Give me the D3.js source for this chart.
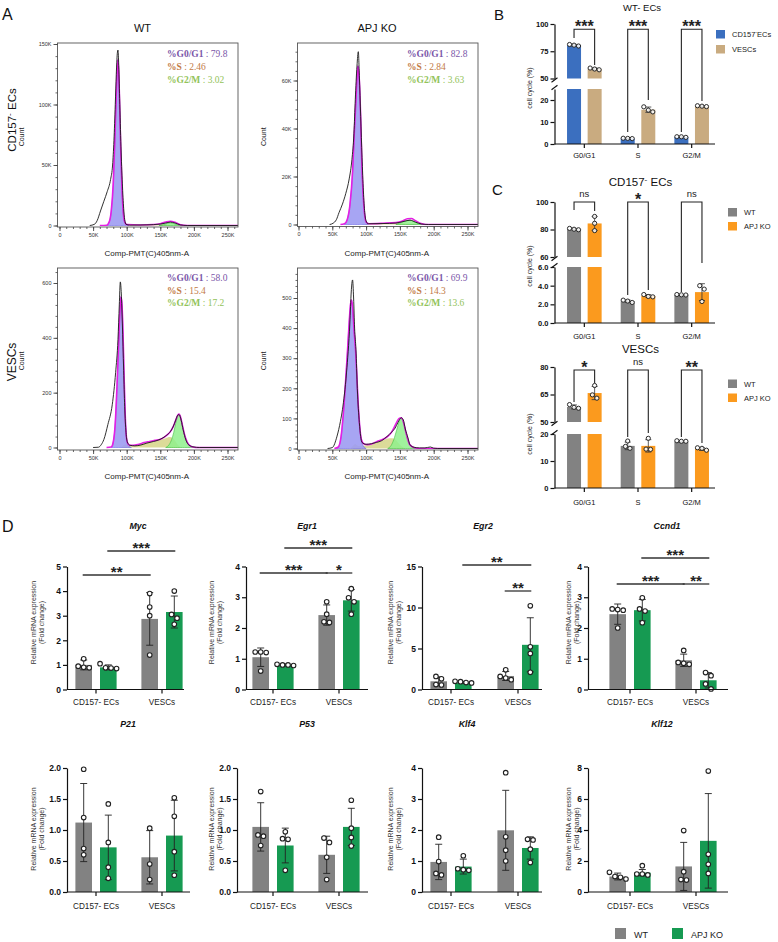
<!DOCTYPE html>
<html>
<head>
<meta charset="utf-8">
<title>Cell cycle and gene expression</title>
<script src="https://cdn.jsdelivr.net/npm/d3@7/dist/d3.min.js"></script>
<style>
  body { margin: 0; background: #fff; }
  svg  { display: block; }
</style>
</head>
<body>
<svg id="fig" width="778" height="942"></svg>
<script>
/* ── Data ─────────────────────────────────────────────── */

// Panel A: DNA content histograms. x = Comp-PMT(C)405nm-A (K), y = count (top row in K)
const ecWtRaw = [[45,0],[52,1],[56,4],[61,12],[66,20],[71,28],[76,38],[79,50],[81,70],[83,100],[84.5,125],[86,142],[87,145],[88,135],[89.5,105],[91.5,65],[93.5,35],[95.5,14],[97,5],[99,1],[105,0.3],[130,0.5],[150,1.2],[158,2],[165,2.8],[172,2],[180,0.5],[190,0],[280,0]];
const ecWtFit = [[60,0],[70,0.2],[74,3],[77,12],[80,35],[82,65],[84,100],[85.5,125],[86.8,137],[88,128],[89.5,100],[91,65],[93,30],[95,10],[97,3],[100,0.8],[120,0.4],[140,0.8],[150,1.5],[158,2.8],[165,3.5],[172,2.6],[180,0.6],[190,0],[280,0]];
const ecWtG1  = [[70,0],[74,3],[77,12],[80,35],[82,65],[84,100],[85.5,125],[86.8,137],[88,128],[89.5,100],[91,65],[93,30],[95,10],[97,3],[100,0.8],[103,0]];
const ecWtS   = [[95,0],[105,0.3],[125,0.5],[145,0.8],[158,0.6],[168,0]];
const ecWtG2  = [[148,0],[155,0.8],[161,1.8],[165,2.2],[170,1.6],[176,0.6],[182,0]];

const ecKoRaw = [[46,0],[51,0.5],[56,2],[60,5],[65,8.5],[70,13],[75,19],[79,27],[82,38],[84,52],[86.5,66],[88.5,72],[90,62],[92,45],[94,28],[96,14],[98,5],[100,1.5],[103,0.3],[125,0.4],[144,0.6],[156,1.3],[165,1.8],[173,1],[182,0.2],[192,0],[280,0]];
const ecKoFit = [[62,0],[68,0.3],[72,2],[76,8],[80,22],[82.5,38],[85,52],[87,63],[88,66],[90,60],[92,44],[93.5,27],[95.5,13],[97.5,5],[100,1],[104,0.3],[125,0.5],[144,0.8],[154,1.5],[161,2.4],[167,2.5],[173,1.6],[180,0.5],[188,0],[280,0]];
const ecKoG1  = [[68,0],[72,2],[76,8],[80,22],[82.5,38],[85,52],[87,63],[88,66],[90,60],[92,44],[93.5,27],[95.5,13],[97.5,5],[100,1],[103,0]];
const ecKoS   = [[95,0],[105,0.3],[130,0.5],[150,0.6],[165,0.3],[175,0]];
const ecKoG2  = [[144,0],[152,0.8],[158,1.5],[165,1.8],[171,1.2],[178,0.3],[183,0]];

const veWtRaw = [[50,0],[58,1],[62,10],[66,29],[72,84],[78.5,156],[83.5,273],[87,393],[89,520],[90.5,604],[92,560],[93.5,454],[95.5,280],[97,150],[99,55],[101,20],[105,8],[112,6],[121,9],[130,16],[140,22],[150,30],[158,42],[164,55],[169,75],[173,100],[176,118],[178,120],[181,100],[184,65],[188,28],[193,8],[200,2],[208,0],[280,0]];
const veWtFit = [[70,0],[77,2],[80,20],[83,90],[85.5,220],[88,380],[90,500],[91.5,550],[93,520],[94.5,420],[96,270],[97.5,140],[99,55],[101,18],[104,8],[110,8],[118,12],[126,18],[134,22],[142,26],[150,30],[156,38],[161,48],[165,58],[169,75],[173,100],[176,118],[178,122],[180,112],[183,80],[186,48],[190,20],[195,5],[200,1],[206,0],[280,0]];
const veWtG1  = [[77,0],[80,20],[83,90],[85.5,220],[88,380],[90,500],[91.5,550],[93,520],[94.5,420],[96,270],[97.5,140],[99,55],[101,15],[104,3],[107,0]];
const veWtS   = [[92,0],[96,10],[99,12],[103,6],[110,8],[118,12],[126,16],[134,20],[142,24],[150,28],[158,34],[164,38],[168,36],[172,25],[176,10],[180,2],[183,0]];
const veWtG2  = [[158,0],[163,10],[167,30],[170,55],[173,90],[176,115],[178,120],[180,110],[183,80],[186,48],[190,20],[195,5],[200,0]];

const veKoRaw = [[43,0],[50,3],[57,41],[62,90],[65,129],[71,251],[76,417],[78,520],[80,560],[81.5,500],[83,400],[85,328],[87,200],[90,86],[92,40],[94,20],[100,14],[108,16],[115,20],[123,26],[131,40],[138,55],[143,68],[147,86],[152,102],[155,95],[158,65],[162,35],[165,12],[171,4],[179,2],[187,2],[195,5],[200,1],[206,0],[280,0]];
const veKoFit = [[53,0],[59,5],[63,40],[66,107],[69,200],[72,306],[75,420],[77,480],[78.5,493],[80,470],[82,400],[85,306],[88,160],[91,63],[93,30],[97,15],[102,13],[108,15],[115,22],[125,31],[132,40],[137,52],[141,68],[145,86],[149,100],[152,102],[155,90],[158,62],[161,35],[164,15],[169,5],[175,1],[182,0],[280,0]];
const veKoG1  = [[56,0],[59,5],[63,40],[66,107],[69,200],[72,306],[75,420],[77,480],[78.5,493],[80,470],[82,400],[85,306],[88,160],[91,63],[93,25],[96,8],[100,0]];
const veKoS   = [[77,0],[81,10],[84,15],[87,10],[91,8],[98,10],[106,13],[115,20],[125,28],[132,33],[139,34],[144,28],[149,15],[154,5],[158,0]];
const veKoG2  = [[132,0],[137,10],[141,30],[145,60],[149,90],[152,100],[155,88],[158,60],[161,35],[164,15],[169,5],[175,0]];

const statNames = ['%G0/G1', '%S', '%G2/M'];
const ecWtStats = ['79.8', '2.46', '3.02'];
const ecKoStats = ['82.8', '2.84', '3.63'];
const veWtStats = ['58.0', '15.4', '17.2'];
const veKoStats = ['69.9', '14.3', '13.6'];

// Panel B / C: cell cycle (%) by phase
const phases = ['G0/G1', 'S', 'G2/M'];

const bEcMean = [80.5, 2.54, 3.2];
const bEcSd   = [0.75, 0.07, 0.15];
const bEcPts  = [[79.8, 81.2, 80.6], [2.46, 2.55, 2.62], [3.02, 3.3, 3.28]];
const bVeMean = [58.8, 15.6, 17.2];
const bVeSd   = [0.8, 1.2, 0.2];
const bVePts  = [[58.0, 59.6, 58.7], [14.6, 16.9, 15.4], [17.2, 17.0, 17.4]];
const bSig    = ['***', '***', '***'];

const cEcWtMean = [80.3, 2.33, 3.02];
const cEcWtSd   = [0.5, 0.12, 0.03];
const cEcWtPts  = [[79.8, 80.8, 80.2], [2.2, 2.35, 2.45], [3.02, 3.05, 3.0]];
const cEcKoMean = [84.4, 2.9, 3.31];
const cEcKoSd   = [5.1, 0.14, 0.9];
const cEcKoPts  = [[89.5, 84.5, 79.2], [2.84, 3.05, 2.8], [4.0, 3.63, 2.3]];
const cEcSig    = ['ns', '*', 'ns'];

const cVeWtMean = [58.2, 15.6, 17.2];
const cVeWtSd   = [1.1, 1.4, 0.2];
const cVeWtPts  = [[57.5, 59.5, 58.0], [17.4, 14.7, 15.4], [17.3, 17.5, 17.3]];
const cVeKoMean = [65.8, 15.6, 14.4];
const cVeKoSd   = [3.6, 2.3, 0.5];
const cVeKoPts  = [[63.0, 69.9, 64.8], [18.4, 14.4, 14.3], [14.0, 14.7, 14.9]];
const cVeSig    = ['*', 'ns', '**'];

// Panel D: relative mRNA expression (fold change)
const groups = ['CD157- ECs', 'VESCs'];
const genotypes = ['WT', 'APJ KO'];
// bar order: WT CD157-, KO CD157-, WT VESCs, KO VESCs
const mycMean = [1.0, 0.9, 2.87, 3.15];
const mycSd   = [0.2, 0.1, 1.07, 0.65];
const mycPts  = [[1.25, 0.95, 0.88, 0.9], [1.05, 0.88, 0.87, 0.85], [3.9, 3.35, 3.0, 1.4], [4.0, 3.05, 2.65, 2.9]];
const mycSig  = [['***', 1, 3], ['**', 0, 2]];

const egr1Mean = [1.05, 0.8, 2.42, 2.9];
const egr1Sd   = [0.3, 0.03, 0.33, 0.35];
const egr1Pts  = [[1.22, 1.2, 1.22, 0.6], [0.8, 0.78, 0.82, 0.8], [2.85, 2.45, 2.18, 2.2], [3.28, 2.98, 2.85, 2.45]];
const egr1Sig  = [['***', 1, 3], ['***', 0, 2], ['*', 2, 3]];

const egr2Mean = [1.0, 0.85, 1.65, 5.45];
const egr2Sd   = [0.55, 0.12, 0.55, 3.3];
const egr2Pts  = [[1.6, 1.3, 0.6, 0.55], [0.95, 1.0, 0.85, 0.8], [2.4, 1.6, 1.4, 1.2], [10.2, 5.2, 4.4, 2.1]];
const egr2Sig  = [['**', 1, 3], ['**', 2, 3]];

const ccnd1Mean = [2.45, 2.58, 0.95, 0.3];
const ccnd1Sd   = [0.33, 0.35, 0.2, 0.25];
const ccnd1Pts  = [[2.6, 2.62, 2.0, 2.58], [2.98, 2.62, 2.55, 2.17], [1.27, 0.85, 0.88, 0.82], [0.55, 0.45, 0.18, 0.02]];
const ccnd1Sig  = [['***', 1, 3], ['***', 0, 2], ['**', 2, 3]];

const p21Mean = [1.12, 0.72, 0.56, 0.91];
const p21Sd   = [0.63, 0.52, 0.43, 0.57];
const p21Pts  = [[1.98, 1.2, 0.7, 0.6], [1.42, 0.8, 0.4, 0.22], [1.03, 0.45, 0.2], [1.52, 1.22, 0.65, 0.27]];

const p53Mean = [1.05, 0.75, 0.6, 1.05];
const p53Sd   = [0.39, 0.28, 0.3, 0.3];
const p53Pts  = [[1.62, 0.92, 0.9, 0.75], [0.97, 0.86, 0.85, 0.35], [0.87, 0.8, 0.56, 0.2], [1.48, 1.03, 0.88, 0.74]];

const klf4Mean = [0.97, 0.82, 1.99, 1.42];
const klf4Sd   = [0.57, 0.24, 1.29, 0.36];
const klf4Pts  = [[1.77, 0.98, 0.6, 0.55], [1.17, 0.72, 0.75, 0.7], [3.85, 1.78, 1.35, 1.0], [1.68, 1.7, 1.38, 0.95]];

const klf12Mean = [1.0, 1.25, 1.65, 3.3];
const klf12Sd   = [0.22, 0.2, 1.55, 3.05];
const klf12Pts  = [[1.27, 0.84, 0.95, 1.0], [1.7, 1.1, 1.16, 1.16], [3.96, 1.31, 0.77, 0.8], [7.8, 2.43, 1.79, 1.2]];

/* ── Styles / helpers ─────────────────────────────────── */

const SANS  = '"Liberation Sans", Arial, Helvetica, sans-serif';
const SERIF = '"Liberation Serif", "Times New Roman", serif';
const BLUE = '#3b6fbf', TAN = '#c9ab80', GRAY = '#828282', ORANGE = '#fb9a1e', GREEN = '#169a52';
const STAT_COLORS = ['#7a56a8', '#c27a46', '#92c35a'];

const svg = d3.select('#fig');
svg.append('rect').attr('width', 778).attr('height', 942).attr('fill', '#fff');

function addText(parent, x, y, str, o = {}) {
  const t = parent.append('text')
    .attr('x', x).attr('y', y)
    .attr('font-family', o.family || SANS)
    .attr('font-size', o.size || 8)
    .attr('font-weight', o.weight || 'normal')
    .attr('font-style', o.italic ? 'italic' : null)
    .attr('text-anchor', o.anchor || 'middle')
    .attr('fill', o.fill || '#111');
  if (o.rotate) t.attr('transform', `rotate(-90,${x},${y})`);
  if (str != null) t.text(str);
  return t;
}

// "CD157" + superscript minus + rest
function supMinus(t, before, after, size) {
  t.append('tspan').text(before);
  t.append('tspan').attr('dy', -size * 0.38).attr('font-size', size * 0.7).text('-');
  t.append('tspan').attr('dy', size * 0.38).text(after);
  return t;
}

function styleAxis(sel, o) {
  sel.attr('font-family', SANS).attr('font-size', o.size);
  sel.select('.domain').attr('stroke', o.color || '#111').attr('stroke-width', o.width || 1.2);
  sel.selectAll('.tick line').attr('stroke', o.color || '#111').attr('stroke-width', o.width || 1.2);
  sel.selectAll('.tick text').attr('fill', o.textColor || '#111')
    .attr('font-weight', o.bold ? 'bold' : 'normal');
}

// spread replicate points horizontally when they overlap
function spread(vals, yFn, step) {
  const items = vals.map(v => ({ v, py: yFn(v), dx: 0 })).sort((a, b) => a.py - b.py);
  let cluster = [];
  const flush = () => {
    cluster.forEach((it, k) => { it.dx = (k - (cluster.length - 1) / 2) * step; });
    cluster = [];
  };
  items.forEach(it => {
    if (cluster.length && it.py - cluster[cluster.length - 1].py >= step) flush();
    cluster.push(it);
  });
  flush();
  return items;
}

/* ── Panel A: histograms ──────────────────────────────── */

function drawHist(h) {
  const g = svg.append('g');
  const x = d3.scaleLinear().domain([0, 250]).range(h.xr);
  const y = d3.scaleLinear().domain([0, h.yMax]).range(h.yr);
  const [fl, fr, ft, fb] = h.frame;

  const clipId = 'clip-' + h.id;
  svg.append('clipPath').attr('id', clipId)
    .append('rect').attr('x', fl).attr('y', ft).attr('width', fr - fl).attr('height', fb - ft - 1);
  const plot = g.append('g').attr('clip-path', `url(#${clipId})`);

  const area = d3.area().x(d => x(d[0])).y0(y(0)).y1(d => y(d[1])).curve(d3.curveMonotoneX);
  const line = d3.line().x(d => x(d[0])).y(d => y(d[1])).curve(d3.curveMonotoneX);

  plot.append('path').attr('d', area(h.s)).attr('fill', '#d3d27f').attr('fill-opacity', 0.8);
  plot.append('path').attr('d', area(h.g1)).attr('fill', '#9d9bf2').attr('fill-opacity', 0.9)
    .attr('stroke', '#6d68e6').attr('stroke-width', 0.6);
  plot.append('path').attr('d', area(h.g2)).attr('fill', '#8ff08c').attr('fill-opacity', 0.85)
    .attr('stroke', '#3fbf3f').attr('stroke-width', 0.6);
  plot.append('path').attr('d', line(h.fit)).attr('fill', 'none')
    .attr('stroke', '#e41fe4').attr('stroke-width', 1.6);
  plot.append('path').attr('d', line(h.raw)).attr('fill', 'none')
    .attr('stroke', '#1a1a1a').attr('stroke-width', 0.9);

  g.append('rect').attr('x', fl).attr('y', ft).attr('width', fr - fl).attr('height', fb - ft)
    .attr('fill', 'none').attr('stroke', '#555').attr('stroke-width', 0.9);

  // x axis (minor + major)
  const xMinor = d3.range(0, 300, 10).filter(v => x(v) <= fr - 1);
  const xm = g.append('g').attr('transform', `translate(0,${fb})`)
    .call(d3.axisBottom(x).tickValues(xMinor).tickSize(2).tickFormat(''));
  xm.select('.domain').remove();
  xm.selectAll('.tick line').attr('stroke', '#444').attr('stroke-width', 0.8);
  const xa = g.append('g').attr('transform', `translate(0,${fb})`)
    .call(d3.axisBottom(x).tickValues(d3.range(0, 251, 50)).tickSize(4).tickPadding(2)
      .tickFormat(d => d === 0 ? '0' : d + 'K'));
  xa.select('.domain').remove();
  styleAxis(xa, { size: 5.5, width: 0.9, color: '#444', textColor: '#333' });

  // y axis
  const yMinor = d3.range(0, h.yMax * 2, h.yMinor).filter(v => y(v) >= ft + 1);
  const ym = g.append('g').attr('transform', `translate(${fl},0)`)
    .call(d3.axisLeft(y).tickValues(yMinor).tickSize(2).tickFormat(''));
  ym.select('.domain').remove();
  ym.selectAll('.tick line').attr('stroke', '#444').attr('stroke-width', 0.8);
  const ya = g.append('g').attr('transform', `translate(${fl},0)`)
    .call(d3.axisLeft(y).tickValues(d3.range(0, h.yMax + 1, h.yMajor)).tickSize(4).tickPadding(2)
      .tickFormat(d => d === 0 ? '0' : (h.kfmt ? d + 'K' : d)));
  ya.select('.domain').remove();
  styleAxis(ya, { size: 5.5, width: 0.9, color: '#444', textColor: '#333' });

  // stats text
  statNames.forEach((nm, i) => {
    const t = addText(g, h.statX, h.statY[i], null, { family: SERIF, size: 9.5, anchor: 'start', fill: STAT_COLORS[i] });
    t.append('tspan').attr('font-weight', 'bold').text(nm);
    t.append('tspan').text(' : ' + h.stats[i]);
  });

  addText(g, (fl + fr) / 2 - 1, fb + 29, 'Comp-PMT(C)405nm-A', { size: 8, fill: '#222' });
  addText(g, h.countX, (ft + fb) / 2 + 2, 'Count', { size: 7, rotate: true, fill: '#222' });
}

const histCols = [
  { xr: [59.5, 227.5], frame: [57.5, 238], statX: 167, countX: 24 },
  { xr: [298.5, 467.5], frame: [297.5, 478], statX: 407, countX: 265.5 }
];
const hists = [
  { id: 'a1', col: 0, raw: ecWtRaw, fit: ecWtFit, g1: ecWtG1, s: ecWtS, g2: ecWtG2, stats: ecWtStats,
    top: 43, bottom: 227, yMax: 150, yr: [225.5, 44], yMajor: 50, yMinor: 10, kfmt: true, statY: [56.5, 69.5, 82.5] },
  { id: 'a2', col: 1, raw: ecKoRaw, fit: ecKoFit, g1: ecKoG1, s: ecKoS, g2: ecKoG2, stats: ecKoStats,
    top: 43, bottom: 226.5, yMax: 60, yr: [224.5, 80.5], yMajor: 20, yMinor: 4, kfmt: true, statY: [56.5, 69.5, 82.5] },
  { id: 'a3', col: 0, raw: veWtRaw, fit: veWtFit, g1: veWtG1, s: veWtS, g2: veWtG2, stats: veWtStats,
    top: 268, bottom: 450, yMax: 600, yr: [447.5, 283], yMajor: 200, yMinor: 40, statY: [281, 293.5, 306] },
  { id: 'a4', col: 1, raw: veKoRaw, fit: veKoFit, g1: veKoG1, s: veKoS, g2: veKoG2, stats: veKoStats,
    top: 268, bottom: 450, yMax: 500, yr: [448.5, 298], yMajor: 100, yMinor: 20, statY: [281, 293.5, 306] }
];
hists.forEach(h => {
  const c = histCols[h.col];
  drawHist(Object.assign({}, h, {
    xr: c.xr, statX: c.statX, countX: c.countX,
    frame: [c.frame[0], c.frame[1], h.top, h.bottom]
  }));
});

addText(svg, 142.5, 31.5, 'WT', { size: 11 });
addText(svg, 377, 31.5, 'APJ KO', { size: 11 });
supMinus(addText(svg, 16, 120, null, { size: 11.5, rotate: true }), 'CD157', ' ECs', 11.5);
addText(svg, 16, 362, 'VESCs', { size: 12, rotate: true });

/* ── Panels B and C: broken-axis bar charts ───────────── */

function drawBreak(c) {
  const g = svg.append('g');
  const xg = d3.scaleBand().domain(phases).range([557.5, 718.5]);
  const xi = d3.scalePoint().domain([0, 1]).range([-10.3, 10.3]);
  const lo = d3.scaleLinear().domain(c.loDom).range(c.loRng);
  const hi = d3.scaleLinear().domain(c.hiDom).range(c.hiRng);
  const yv = v => (v > c.loDom[1] ? hi(Math.max(v, c.hiDom[0])) : lo(v));
  const cxOf = (i, si) => xg(phases[i]) + xg.bandwidth() / 2 + xi(si);
  const BW = 14;
  const ax = 554.5;

  c.series.forEach((s, si) => {
    s.mean.forEach((m, i) => {
      const cx = cxOf(i, si);
      const lt = Math.min(m, c.loDom[1]);
      g.append('rect').attr('x', cx - BW / 2).attr('width', BW)
        .attr('y', lo(lt)).attr('height', lo(0) - lo(lt)).attr('fill', s.color);
      if (m > c.loDom[1]) {
        g.append('rect').attr('x', cx - BW / 2).attr('width', BW)
          .attr('y', hi(m)).attr('height', hi(c.hiDom[0]) - hi(m)).attr('fill', s.color);
      }
      const e1 = yv(m - s.sd[i]), e2 = yv(m + s.sd[i]);
      g.append('path').attr('d', `M${cx},${e1}V${e2}M${cx - 3},${e2}H${cx + 3}M${cx - 3},${e1}H${cx + 3}`)
        .attr('stroke', '#333').attr('stroke-width', 0.8).attr('fill', 'none');
      spread(s.pts[i], yv, 4.5).forEach(p => {
        g.append('circle').attr('cx', cx + p.dx).attr('cy', p.py).attr('r', 2.1)
          .attr('fill', '#fff').attr('fill-opacity', 0.85).attr('stroke', '#2a2a2a').attr('stroke-width', 1);
      });
    });
  });

  // significance brackets
  c.sig.forEach((lab, i) => {
    const xl = cxOf(i, 0), xr = cxOf(i, 1);
    const [ll, lr] = c.legs[i];
    g.append('path').attr('d', `M${xl},${ll}V${c.bTop}H${xr}V${lr}`)
      .attr('fill', 'none').attr('stroke', '#222').attr('stroke-width', 1.1);
    if (lab === 'ns') addText(g, (xl + xr) / 2, c.bTop - 5.5, lab, { size: 9.5, fill: '#222' });
    else addText(g, (xl + xr) / 2, c.bTop + 3, lab, { size: 16, weight: 'bold', fill: '#222' });
  });

  // y axes (two segments)
  const yaLo = g.append('g').attr('transform', `translate(${ax},0)`)
    .call(d3.axisLeft(lo).tickValues(c.loTicks).tickSize(4).tickSizeOuter(0).tickPadding(2));
  const yaHi = g.append('g').attr('transform', `translate(${ax},0)`)
    .call(d3.axisLeft(hi).tickValues(c.hiTicks).tickSize(4).tickSizeOuter(0).tickPadding(2));
  styleAxis(yaLo, { size: 7.5, bold: true });
  styleAxis(yaHi, { size: 7.5, bold: true });
  [c.hiRng[0] + 1.5, c.loRng[1] - 1.5].forEach(yy => {
    g.append('line').attr('x1', ax - 3).attr('y1', yy + 2.2).attr('x2', ax + 3).attr('y2', yy - 2.2)
      .attr('stroke', '#111').attr('stroke-width', 1.1);
  });

  // x axis
  g.append('line').attr('x1', ax).attr('x2', 715).attr('y1', lo(0)).attr('y2', lo(0))
    .attr('stroke', '#111').attr('stroke-width', 1.2);
  phases.forEach(p => {
    const cx = xg(p) + xg.bandwidth() / 2;
    g.append('line').attr('x1', cx).attr('x2', cx).attr('y1', lo(0)).attr('y2', lo(0) + 4)
      .attr('stroke', '#111').attr('stroke-width', 1.2);
    addText(g, cx, c.labelY, p, { size: 7.5 });
  });

  addText(g, 532, c.yLabelY, 'cell cycle (%)', { size: 7, rotate: true, fill: '#222' });

  // legend
  c.series.forEach((s, si) => {
    const ly = c.legendY[si];
    g.append('rect').attr('x', c.legendX).attr('y', ly).attr('width', 9).attr('height', 8.5).attr('fill', s.color);
    const t = addText(g, c.legendX + 16, ly + 7, null, { size: 7.5, anchor: 'start', fill: '#222' });
    if (s.name === 'CD157-ECs') supMinus(t, 'CD157', 'ECs', 7.5); else t.text(s.name);
  });
}

drawBreak({
  series: [
    { name: 'CD157-ECs', mean: bEcMean, sd: bEcSd, pts: bEcPts, color: BLUE },
    { name: 'VESCs', mean: bVeMean, sd: bVeSd, pts: bVePts, color: TAN }
  ],
  loDom: [0, 25], loRng: [144, 89], loTicks: [0, 10, 20],
  hiDom: [50, 100], hiRng: [78.5, 24], hiTicks: [50, 75, 100],
  sig: bSig, bTop: 29.3, legs: [[38, 65], [132, 100], [132, 101]],
  labelY: 158, yLabelY: 88, legendX: 716, legendY: [30, 45]
});
drawBreak({
  series: [
    { name: 'WT', mean: cEcWtMean, sd: cEcWtSd, pts: cEcWtPts, color: GRAY },
    { name: 'APJ KO', mean: cEcKoMean, sd: cEcKoSd, pts: cEcKoPts, color: ORANGE }
  ],
  loDom: [0, 6], loRng: [323, 267], loTicks: [0, 2, 4, 6],
  hiDom: [60, 100], hiRng: [257, 202], hiTicks: [60, 80, 100],
  sig: cEcSig, bTop: 202, legs: [[210, 211], [295, 290], [292, 263]],
  labelY: 339, yLabelY: 266, legendX: 728, legendY: [208, 222]
});
drawBreak({
  series: [
    { name: 'WT', mean: cVeWtMean, sd: cVeWtSd, pts: cVeWtPts, color: GRAY },
    { name: 'APJ KO', mean: cVeKoMean, sd: cVeKoSd, pts: cVeKoPts, color: ORANGE }
  ],
  loDom: [0, 20], loRng: [488, 434], loTicks: [0, 10, 20],
  hiDom: [50, 80], hiRng: [422, 367], hiTicks: [50, 65, 80],
  sig: cVeSig, bTop: 370, legs: [[402, 383], [437, 433], [437, 443]],
  labelY: 505, yLabelY: 434, legendX: 728, legendY: [379.5, 393.5]
});

addText(svg, 642, 10.5, 'WT- ECs', { size: 9.5 });
supMinus(addText(svg, 640.5, 186, null, { size: 11.5 }), 'CD157', ' ECs', 11.5);
addText(svg, 640.5, 352.5, 'VESCs', { size: 11.5 });

/* ── Panel D: qPCR bar charts ─────────────────────────── */

const rowsD = [
  { y0: 689.5, yTop: 566.5, titleY: 528.5, catY: 705, yLabelY: 622.5 },
  { y0: 892, yTop: 768, titleY: 727, catY: 909, yLabelY: 829 }
];
const colsD = [
  { gx: [96, 162], yLabelX: 36 },
  { gx: [273, 339], yLabelX: 214 },
  { gx: [451, 518], yLabelX: 393 },
  { gx: [630, 696], yLabelX: 571 }
];

function drawGene(c) {
  const row = rowsD[c.row], col = colsD[c.col];
  const g = svg.append('g');
  const y = d3.scaleLinear().domain([0, c.max]).range([row.y0, row.yTop]);
  const xg = d3.scalePoint().domain(groups).range(col.gx);
  const xi = d3.scalePoint().domain(genotypes).range([-12.3, 12.3]);
  const bx = i => xg(groups[i >> 1]) + xi(genotypes[i & 1]);
  const BW = 16.6;

  c.mean.forEach((m, i) => {
    const cx = bx(i);
    g.append('rect').attr('x', cx - BW / 2).attr('width', BW)
      .attr('y', y(m)).attr('height', y(0) - y(m)).attr('fill', i & 1 ? GREEN : GRAY);
    const e1 = y(Math.max(0, m - c.sd[i])), e2 = y(m + c.sd[i]);
    g.append('path').attr('d', `M${cx},${e1}V${e2}M${cx - 3.5},${e2}H${cx + 3.5}M${cx - 3.5},${e1}H${cx + 3.5}`)
      .attr('stroke', '#222').attr('stroke-width', 0.9).attr('fill', 'none');
    spread(c.pts[i], y, 5.5).forEach(p => {
      g.append('circle').attr('cx', cx + p.dx).attr('cy', p.py).attr('r', 2.3)
        .attr('fill', '#fff').attr('stroke', '#222').attr('stroke-width', 1.1);
    });
  });

  // axes
  const ya = g.append('g').attr('transform', `translate(${c.ax},0)`)
    .call(d3.axisLeft(y).tickValues(c.ticks).tickSize(4).tickSizeOuter(0).tickPadding(2).tickFormat(c.fmt));
  styleAxis(ya, { size: 8.5, bold: true });
  g.append('line').attr('x1', c.ax).attr('x2', c.xEnd).attr('y1', y(0)).attr('y2', y(0))
    .attr('stroke', '#111').attr('stroke-width', 1.2);
  groups.forEach(gr => {
    g.append('line').attr('x1', xg(gr)).attr('x2', xg(gr)).attr('y1', y(0)).attr('y2', y(0) + 4)
      .attr('stroke', '#111').attr('stroke-width', 1.2);
    addText(g, xg(gr), row.catY, gr, { size: 8.2, fill: '#222' });
  });

  addText(g, c.titleX, row.titleY, c.name, { size: 8.8, weight: 'bold', italic: true });
  addText(g, col.yLabelX, row.yLabelY, 'Relative mRNA expression', { size: 7, rotate: true, fill: '#333' });
  addText(g, col.yLabelX + 8, row.yLabelY, '(Fold change)', { size: 7, rotate: true, fill: '#333' });

  (c.sig || []).forEach(([lab, a, b], k) => {
    const ly = c.sigY[k];
    g.append('line').attr('x1', bx(a) - 1).attr('x2', bx(b) + 1).attr('y1', ly).attr('y2', ly)
      .attr('stroke', '#333').attr('stroke-width', 1.3);
    addText(g, (bx(a) + bx(b)) / 2, ly + 1.8, lab, { size: 15, weight: 'bold', fill: '#222' });
  });
}

const intFmt = d3.format('d'), decFmt = d3.format('.1f');
const geneCharts = [
  { name: 'Myc',   mean: mycMean,   sd: mycSd,   pts: mycPts,   sig: mycSig,   sigY: [551, 575],
    row: 0, col: 0, ax: 67,  xEnd: 184, titleX: 138, max: 5,  ticks: [0, 1, 2, 3, 4, 5], fmt: intFmt },
  { name: 'Egr1',  mean: egr1Mean,  sd: egr1Sd,  pts: egr1Pts,  sig: egr1Sig,  sigY: [548, 573, 573],
    row: 0, col: 1, ax: 246, xEnd: 368, titleX: 307, max: 4,  ticks: [0, 1, 2, 3, 4], fmt: intFmt },
  { name: 'Egr2',  mean: egr2Mean,  sd: egr2Sd,  pts: egr2Pts,  sig: egr2Sig,  sigY: [565, 591],
    row: 0, col: 2, ax: 422, xEnd: 542, titleX: 483, max: 15, ticks: [0, 5, 10, 15], fmt: intFmt },
  { name: 'Ccnd1', mean: ccnd1Mean, sd: ccnd1Sd, pts: ccnd1Pts, sig: ccnd1Sig, sigY: [558, 584, 584],
    row: 0, col: 3, ax: 588, xEnd: 728, titleX: 667, max: 4,  ticks: [0, 1, 2, 3, 4], fmt: intFmt },
  { name: 'P21',   mean: p21Mean,   sd: p21Sd,   pts: p21Pts,
    row: 1, col: 0, ax: 67,  xEnd: 190, titleX: 128, max: 2,  ticks: [0, 0.5, 1, 1.5, 2], fmt: decFmt },
  { name: 'P53',   mean: p53Mean,   sd: p53Sd,   pts: p53Pts,
    row: 1, col: 1, ax: 237, xEnd: 368, titleX: 307, max: 2,  ticks: [0, 0.5, 1, 1.5, 2], fmt: decFmt },
  { name: 'Klf4',  mean: klf4Mean,  sd: klf4Sd,  pts: klf4Pts,
    row: 1, col: 2, ax: 422, xEnd: 542, titleX: 467, max: 4,  ticks: [0, 1, 2, 3, 4], fmt: intFmt },
  { name: 'Klf12', mean: klf12Mean, sd: klf12Sd, pts: klf12Pts,
    row: 1, col: 3, ax: 588, xEnd: 728, titleX: 662, max: 8,  ticks: [0, 2, 4, 6, 8], fmt: intFmt }
];
geneCharts.forEach(drawGene);

// bottom legend
[[GRAY, 'WT', 615], [GREEN, 'APJ KO', 672]].forEach(([col, name, lx]) => {
  svg.append('rect').attr('x', lx).attr('y', 928).attr('width', 11).attr('height', 11).attr('fill', col);
  addText(svg, lx + 19, 937.5, name, { size: 9, anchor: 'start', fill: '#222' });
});

/* ── Panel letters ────────────────────────────────────── */
addText(svg, 2, 20, 'A', { size: 16, anchor: 'start' });
addText(svg, 494, 20, 'B', { size: 15, anchor: 'start' });
addText(svg, 492, 195, 'C', { size: 15, anchor: 'start' });
addText(svg, 2, 532, 'D', { size: 16, anchor: 'start' });
</script>
</body>
</html>
